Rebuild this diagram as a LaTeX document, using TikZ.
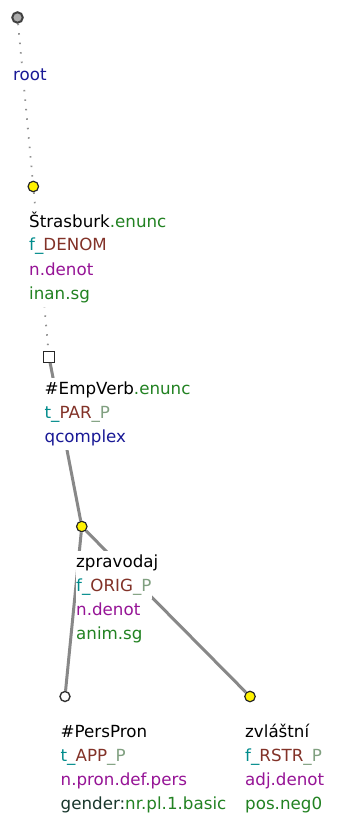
\documentclass[tikz,border=0pt]{standalone}
\usepackage{fontspec}
\setmainfont{DejaVu Sans}
\definecolor{cblue}{RGB}{25,25,150}
\definecolor{cgreen}{RGB}{34,130,34}
\definecolor{cteal}{RGB}{0,140,140}
\definecolor{cbrown}{RGB}{130,50,40}
\definecolor{cpale}{RGB}{128,160,128}
\definecolor{cpurple}{RGB}{150,20,150}
\definecolor{cdark}{RGB}{25,55,45}
\definecolor{edgegray}{RGB}{136,136,136}
\definecolor{dotgray}{RGB}{145,145,145}
\begin{document}
\begin{tikzpicture}[x=1pt,y=-1pt,
  lbl/.style={anchor=base west, fill=white, inner xsep=0.5pt, inner ysep=3pt,
    text height=13pt, text depth=4.5pt, font=\fontsize{16.7}{20}\selectfont},
  solidedge/.style={draw=edgegray, line width=3pt},
  dotedge/.style={draw=dotgray, line width=1.8pt, dash pattern=on 1.5pt off 8pt},
  rootnode/.style={circle, minimum size=10.5pt, inner sep=0pt, fill=gray!65, draw=black!75, line width=2pt},
  yelnode/.style={circle, minimum size=10.5pt, inner sep=0pt, fill=yellow, draw=black!85, line width=1.2pt},
  whitenode/.style={circle, minimum size=10pt, inner sep=0pt, fill=white, draw=black!80, line width=1.4pt},
  sqnode/.style={rectangle, minimum size=10.5pt, inner sep=0pt, fill=white, draw=black!85, line width=1.4pt}]
\useasboundingbox (0,0) rectangle (339,818);
% tree nodes
\node[rootnode] (root) at (17.5,17.5) {};
\node[yelnode] (stras) at (33.3,186.5) {};
\node[sqnode] (emp) at (49,357) {};
\node[yelnode] (zprav) at (81.8,526.5) {};
\node[whitenode] (pers) at (65,696.5) {};
\node[yelnode] (zvl) at (250,696.5) {};
% edges
\draw[dotedge] (root) -- (stras);
\draw[dotedge] (stras) -- (emp);
\draw[solidedge] (emp) -- (zprav);
\draw[solidedge] (zprav) -- (pers);
\draw[solidedge] (zprav) -- (zvl);
% labels
\node[lbl] (lroot) at (12.5,81) {\textcolor{cblue}{root}};
\node[lbl] (ls1) at (28.5,227) {Štrasburk\textcolor{cgreen}{.enunc}};
\node[lbl] (ls2) at (28.5,251) {\textcolor{cteal}{f\_}\textcolor{cbrown}{DENOM}};
\node[lbl] (ls3) at (28.5,275) {\textcolor{cpurple}{n.denot}};
\node[lbl] (ls4) at (28.5,299) {\textcolor{cgreen}{inan.sg}};
\node[lbl] (le1) at (44,394) {\#EmpVerb\textcolor{cgreen}{.enunc}};
\node[lbl] (le2) at (44,418) {\textcolor{cteal}{t\_}\textcolor{cbrown}{PAR}\textcolor{cpale}{\_P}};
\node[lbl] (le3) at (44,442) {\textcolor{cblue}{qcomplex}};
\node[lbl] (lz1) at (75.5,567) {zpravodaj};
\node[lbl] (lz2) at (75.5,591) {\textcolor{cteal}{f\_}\textcolor{cbrown}{ORIG}\textcolor{cpale}{\_P}};
\node[lbl] (lz3) at (75.5,615) {\textcolor{cpurple}{n.denot}};
\node[lbl] (lz4) at (75.5,639) {\textcolor{cgreen}{anim.sg}};
\node[lbl] (lp1) at (60,737) {\#PersPron};
\node[lbl] (lp2) at (60,761) {\textcolor{cteal}{t\_}\textcolor{cbrown}{APP}\textcolor{cpale}{\_P}};
\node[lbl] (lp3) at (60,785) {\textcolor{cpurple}{n.pron.def.pers}};
\node[lbl] (lp4) at (60,809) {\textcolor{cdark}{gender:}\textcolor{cgreen}{nr.pl.1.basic}};
\node[lbl] (lv1) at (244.5,737) {zvláštní};
\node[lbl] (lv2) at (244.5,761) {\textcolor{cteal}{f\_}\textcolor{cbrown}{RSTR}\textcolor{cpale}{\_P}};
\node[lbl] (lv3) at (244.5,785) {\textcolor{cpurple}{adj.denot}};
\node[lbl] (lv4) at (244.5,809) {\textcolor{cgreen}{pos.neg0}};
\end{tikzpicture}
\end{document}
